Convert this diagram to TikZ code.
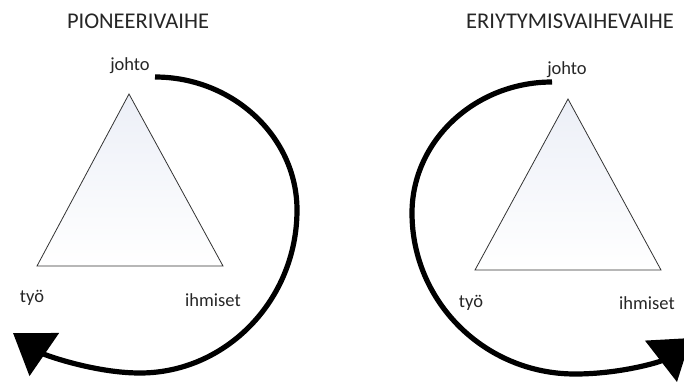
\documentclass[tikz,border=0pt]{standalone}
\usepackage{fontspec}
\setmainfont{Carlito}
\usetikzlibrary{arrows.meta}
\definecolor{trifill}{RGB}{236,239,247}
\tikzset{
  tri/.style={draw=black!80, line width=0.8pt, top color=trifill, bottom color=white, line join=miter},
  lbl/.style={font=\fontsize{18.5}{20}\selectfont, text=black!85, inner sep=0pt},
  ttl/.style={font=\fontsize{22.5}{24}\selectfont, text=black!85, inner sep=0pt},
  cyc/.style={line width=5.2pt, -{Triangle[length=38pt,width=51pt]}}
}
\begin{document}
\begin{tikzpicture}[x=1pt,y=-1pt]
\useasboundingbox (0,0) rectangle (684,383);
\clip (0,0) rectangle (684,383);
% left panel
\node[ttl] (t1) at (138,21) {PIONEERIVAIHE};
\coordinate (a1) at (129,94);
\coordinate (b1) at (37,266);
\coordinate (c1) at (223,266);
\path[tri] (a1) -- (b1) -- (c1) -- cycle;
\node[lbl] (j1) at (130,66) {johto};
\node[lbl] (w1) at (32,298) {työ};
\node[lbl] (h1) at (213,300) {ihmiset};
\coordinate (s1) at (155,77);
\coordinate (e1) at (13,333);
\draw[cyc] (s1) .. controls (233,77) and (297,137) .. (297,210)
  .. controls (297,300) and (226,373) .. (140,373)
  .. controls (95,373) and (45,355) .. (e1);
% right panel
\node[ttl] (t2) at (570,21) {ERIYTYMISVAIHEVAIHE};
\coordinate (a2) at (568,99);
\coordinate (b2) at (475,270);
\coordinate (c2) at (661,270);
\path[tri] (a2) -- (b2) -- (c2) -- cycle;
\node[lbl] (j2) at (567,70) {johto};
\node[lbl] (w2) at (471,303) {työ};
\node[lbl] (h2) at (647,303) {ihmiset};
\coordinate (s2) at (552,82);
\coordinate (e2) at (691,338);
\draw[cyc] (s2) .. controls (475,82) and (412,141) .. (412,213)
  .. controls (412,302) and (485,374) .. (575,374)
  .. controls (620,374) and (660,362) .. (e2);
\end{tikzpicture}
\end{document}
